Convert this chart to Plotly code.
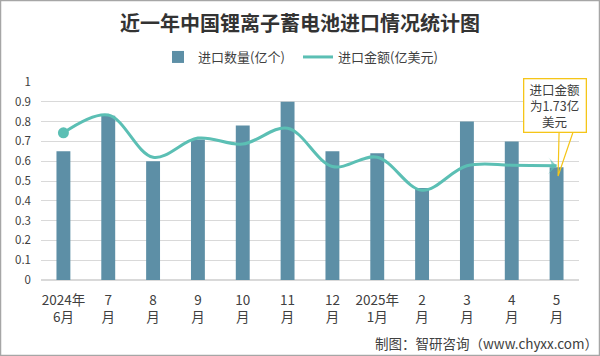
import plotly.graph_objects as go

categories = ["2024年<br>6月", "7<br>月", "8<br>月", "9<br>月", "10<br>月", "11<br>月",
              "12<br>月", "2025年<br>1月", "2<br>月", "3<br>月", "4<br>月", "5<br>月"]
quantity = [0.65, 0.83, 0.60, 0.71, 0.78, 0.90, 0.65, 0.64, 0.465, 0.80, 0.70, 0.57]
amount = [2.23, 2.50, 1.86, 2.15, 2.06, 2.30, 1.72, 1.86, 1.36, 1.73, 1.74, 1.73]
y_ticks = [0, 0.1, 0.2, 0.3, 0.4, 0.5, 0.6, 0.7, 0.8, 0.9, 1]
y_ticktext = ["0", "0.1", "0.2", "0.3", "0.4", "0.5", "0.6", "0.7", "0.8", "0.9", "1"]

BAR = "#5d8fa6"
LINE = "#5bbfb4"
GOLD = "#f5c518"
TXT = "#404040"
FONT = "Noto Sans CJK SC"

n = len(categories)
symbols = ["circle"] * (n - 1) + ["arrow-wide"]
sizes = [0] * (n - 1) + [12]

fig = go.Figure()
fig.add_trace(go.Bar(x=categories, y=quantity, name="进口数量(亿个)",
                     marker=dict(color=BAR, line=dict(width=0)), width=0.31))
fig.add_trace(go.Scatter(x=categories, y=amount, name="进口金额(亿美元)", yaxis="y2",
                         mode="lines+markers",
                         line=dict(color=LINE, width=3, shape="spline", smoothing=1.0),
                         marker=dict(symbol=symbols, size=sizes, color=LINE,
                                     angleref="previous", line=dict(width=0))))
fig.add_trace(go.Scatter(x=categories[:1], y=amount[:1], yaxis="y2", mode="markers",
                         showlegend=False, hoverinfo="skip",
                         marker=dict(symbol="circle", size=11, color=LINE)))

fig.update_layout(
    width=600, height=356,
    margin=dict(l=41, r=21, t=82, b=76, autoexpand=False),
    paper_bgcolor="white", plot_bgcolor="white",
    font=dict(family=FONT, size=12, color=TXT),
    title=dict(text="<b>近一年中国锂离子蓄电池进口情况统计图</b>", x=0.5, xanchor="center",
               y=1 - 23.5 / 356, yanchor="middle",
               font=dict(family=FONT, size=20, color="#333333")),
    showlegend=True,
    legend=dict(orientation="h", x=(158 - 41) / 538, xanchor="left",
                y=(280 - 57) / 198, yanchor="middle", entrywidth=95,
                font=dict(size=13, color=TXT), bgcolor="rgba(0,0,0,0)"),
    xaxis=dict(range=[-0.5, n - 0.5], showgrid=False, showline=False, ticks="",
               tickfont=dict(size=13.5, color=TXT), tickangle=0, automargin=False,
               ticklabelstandoff=10),
    yaxis=dict(range=[0, 1], tickvals=y_ticks, ticktext=y_ticktext, showgrid=True,
               gridcolor="#d9d9d9", gridwidth=1, zeroline=True, zerolinecolor="#d9d9d9",
               showline=False, ticks="", tickfont=dict(size=11.5, color=TXT),
               ticklabelstandoff=9, automargin=False),
    yaxis2=dict(range=[0, 3], overlaying="y", side="right", visible=False, showgrid=False,
                automargin=False),
)

# callout box
fig.add_annotation(x=categories[-1], y=amount[-1], xref="x", yref="y2",
                   text="进口金额<br>为1.73亿<br>美元", showarrow=False,
                   xanchor="center", yanchor="middle", xshift=-2, yshift=60.3,
                   width=58, height=49, borderpad=1.5,
                   bordercolor=GOLD, borderwidth=1.3, bgcolor="white",
                   font=dict(size=12.5, color=TXT), align="center")
# callout wedge pointer
fig.add_shape(type="path", xref="x", yref="y2", xsizemode="pixel", ysizemode="pixel",
              xanchor=categories[-1], yanchor=amount[-1],
              path="M2.5,33.8 L1.5,-10.2 L16.5,33.8",
              line=dict(color=GOLD, width=1.2), fillcolor="rgba(0,0,0,0)", layer="above")

fig.add_annotation(text="制图：智研咨询（www.chyxx.com）", xref="paper", yref="paper",
                   x=(600 - 41) / 538, xanchor="right", y=-63 / 198, yanchor="middle",
                   showarrow=False, font=dict(size=13.5, color=TXT))

fig.add_shape(type="rect", xref="paper", yref="paper",
              x0=-40.5 / 538, x1=1 + 20.5 / 538, y0=-75.5 / 198, y1=1 + 81.5 / 198,
              line=dict(color="#a6a6a6", width=1.5), fillcolor="rgba(0,0,0,0)", layer="above")

fig.write_html("out.html", config={"displayModeBar": False},
               post_script="document.body.style.margin='0';document.body.style.overflow='hidden';")
